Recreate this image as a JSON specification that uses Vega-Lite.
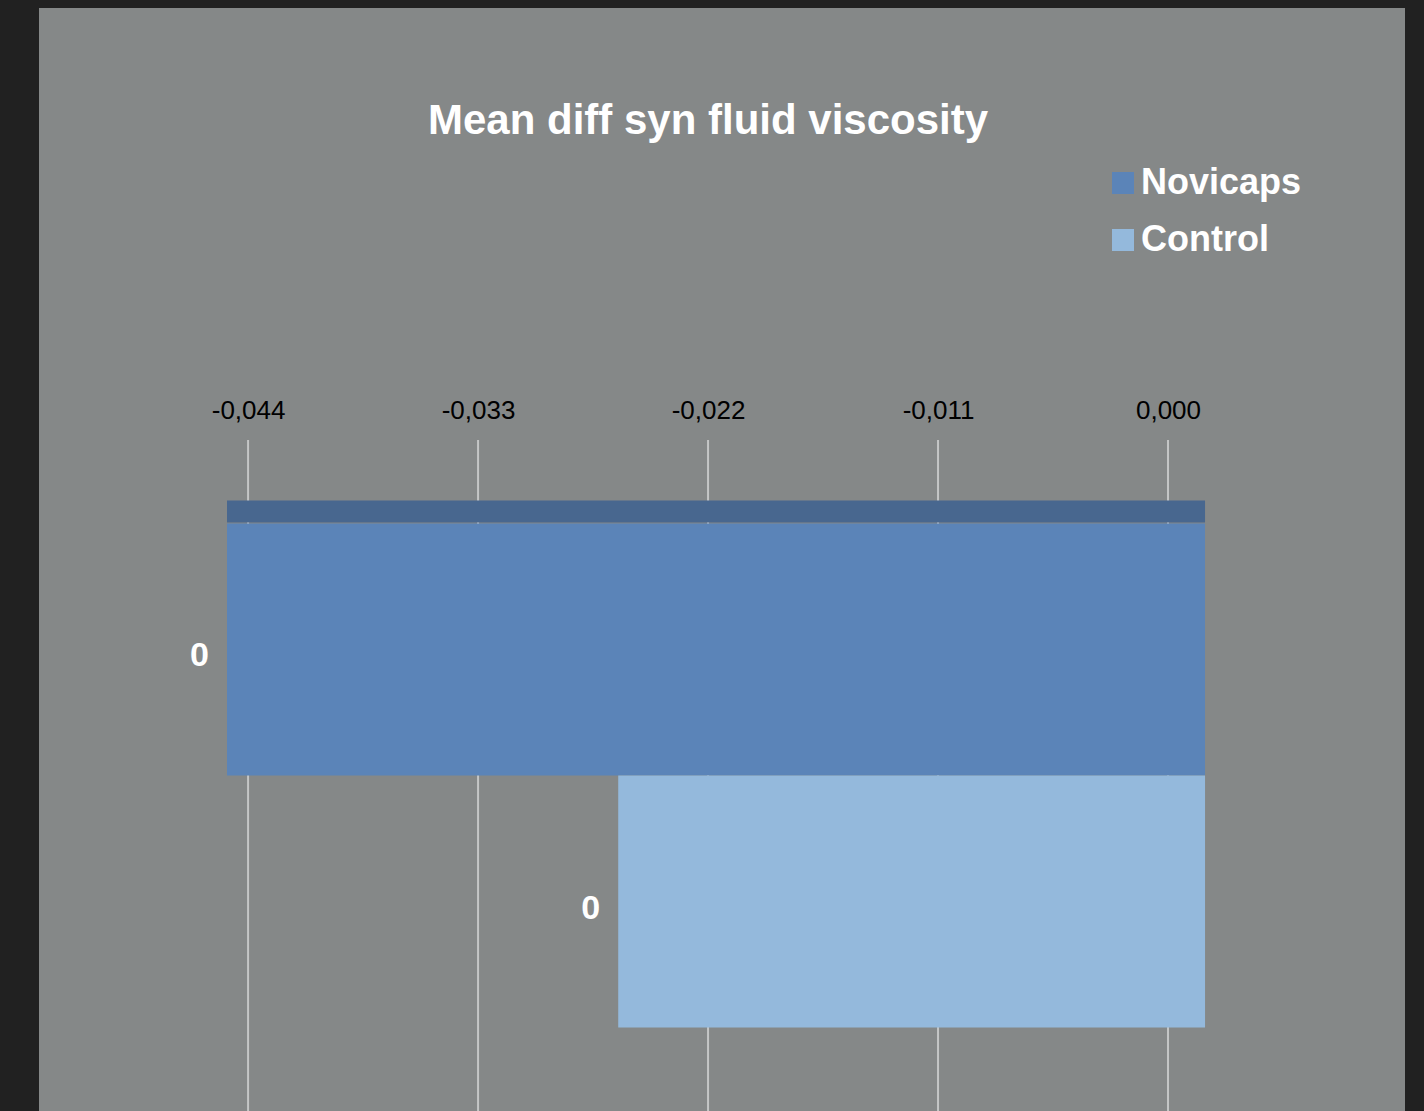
{
  "$schema": "https://vega.github.io/schema/vega-lite/v6.json",
  "background": "#212121",
  "padding": {"left": 39, "top": 8, "right": 19, "bottom": 0},
  "bounds": "flush",
  "spacing": 0,
  "config": {
    "view": {"fill": "#858888", "stroke": null},
    "font": "Liberation Sans",
    "locale": {
      "number": {"decimal": ",", "thousands": ".", "grouping": [3], "currency": ["", " €"], "minus": "-"}
    }
  },
  "datasets": {
    "bars": [
      {"series": "Novicaps", "value": -0.045},
      {"series": "Control", "value": -0.027}
    ],
    "ticks": [
      {"tick": -0.044},
      {"tick": -0.033},
      {"tick": -0.022},
      {"tick": -0.011},
      {"tick": 0}
    ],
    "titles": [{"title": "Mean diff syn fluid viscosity"}]
  },
  "vconcat": [
    {
      "width": 1366,
      "height": 432,
      "data": {"name": "titles"},
      "mark": {"type": "text", "font": "Liberation Sans", "fontWeight": "bold", "fontSize": 42, "color": "#ffffff", "dx": -14, "dy": -103},
      "encoding": {
        "x": {"field": "title", "type": "nominal", "axis": null},
        "y": {"field": "title", "type": "nominal", "axis": null},
        "text": {"field": "title"}
      }
    },
    {
      "width": 1366,
      "height": 671,
      "layer": [
        {
          "data": {"name": "ticks"},
          "mark": {"type": "rule", "color": "#c4c6c6", "strokeWidth": 2},
          "encoding": {
            "x": {
              "field": "tick",
              "type": "quantitative",
              "scale": {"domain": [-0.054, 0.011335], "nice": false, "zero": false},
              "axis": {
                "orient": "top",
                "title": null,
                "values": [-0.044, -0.033, -0.022, -0.011, 0],
                "format": ".3f",
                "domain": false,
                "ticks": false,
                "tickSize": 0,
                "grid": false,
                "labelPadding": 17,
                "labelFontSize": 26,
                "labelColor": "#000000",
                "labelFont": "Liberation Sans"
              }
            }
          }
        },
        {
          "data": {"name": "bars"},
          "layer": [
            {
              "mark": {"type": "bar"},
              "encoding": {
                "x": {
                  "field": "value",
                  "type": "quantitative",
                  "scale": {"domain": [-0.05365, 0.0092], "nice": false, "zero": false},
                  "axis": null
                },
                "y": {
                  "field": "series",
                  "type": "nominal",
                  "sort": ["Novicaps", "Control"],
                  "scale": {"paddingInner": 0, "paddingOuter": 0.331},
                  "axis": null
                },
                "color": {
                  "field": "series",
                  "type": "nominal",
                  "scale": {"domain": ["Novicaps", "Control"], "range": ["#5b84b8", "#94b9dc"]},
                  "legend": {
                    "title": null,
                    "orient": "none",
                    "legendX": 1066,
                    "legendY": 157,
                    "symbolType": "square",
                    "symbolSize": 484,
                    "symbolStrokeWidth": 0,
                    "labelFontSize": 36,
                    "labelFont": "Liberation Sans",
                    "labelFontWeight": "bold",
                    "labelColor": "#ffffff",
                    "labelLimit": 400,
                    "labelOffset": 0,
                    "rowPadding": 21
                  }
                }
              }
            },
            {
              "transform": [{"filter": "datum.series === 'Novicaps'"}],
              "mark": {"type": "bar", "color": "#48678f", "height": 22, "yOffset": -138},
              "encoding": {
                "x": {"field": "value", "type": "quantitative"},
                "y": {"field": "series", "type": "nominal", "sort": ["Novicaps", "Control"]}
              }
            },
            {
              "mark": {"type": "text", "align": "right", "dx": -18, "dy": 7, "fontSize": 34, "fontWeight": "bold", "color": "#ffffff", "font": "Liberation Sans"},
              "encoding": {
                "x": {"field": "value", "type": "quantitative"},
                "y": {"field": "series", "type": "nominal", "sort": ["Novicaps", "Control"]},
                "text": {"field": "value", "type": "quantitative", "format": ".0f"}
              }
            }
          ]
        }
      ],
      "resolve": {"scale": {"x": "independent"}}
    }
  ]
}
